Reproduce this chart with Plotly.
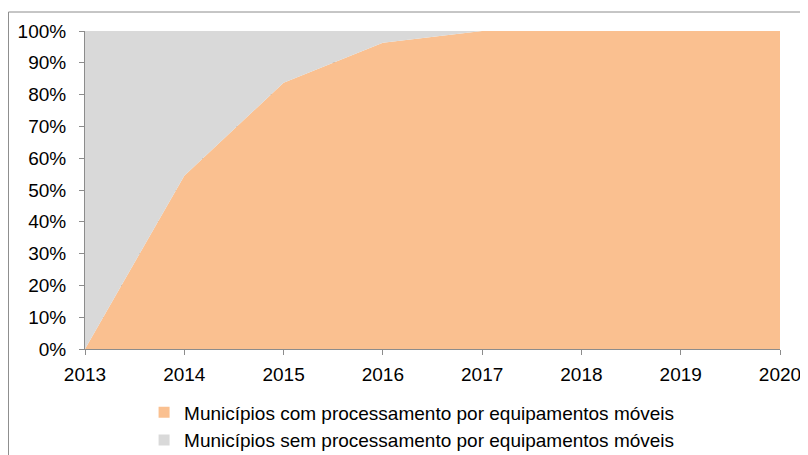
import plotly.graph_objects as go

years = [2013, 2014, 2015, 2016, 2017, 2018, 2019, 2020]
com_moveis = [0, 54.5, 83.7, 96.3, 100, 100, 100, 100]
sem_moveis = [100, 45.5, 16.3, 3.7, 0, 0, 0, 0]
y_ticks = [0, 10, 20, 30, 40, 50, 60, 70, 80, 90, 100]
y_labels = [f'{v}%' for v in y_ticks]
names = ['Municípios com processamento por equipamentos móveis',
         'Municípios sem processamento por equipamentos móveis']
colors = ['#FAC090', '#D9D9D9']

fig = go.Figure()
for serie, name, color in zip([com_moveis, sem_moveis], names, colors):
    fig.add_trace(go.Scatter(x=years, y=serie, name=name, stackgroup='one', mode='none',
                             fillcolor=color, showlegend=False, hoverinfo='x+y+name'))

# legend entries with square swatches like the original
for i, (name, color) in enumerate(zip(names, colors)):
    fig.add_trace(go.Scatter(x=[None], y=[None], name=name, mode='markers',
                             marker=dict(symbol='square', size=11, color=color),
                             legendgroup=str(i), legendrank=i + 1))

axis_style = dict(showline=True, linecolor='#8C8C8C', linewidth=1, ticks='outside',
                  ticklen=5, tickcolor='#8C8C8C', tickfont=dict(size=19, color='#000000'))
fig.update_xaxes(range=[2013, 2020], tickvals=years, showgrid=False, zeroline=False,
                 ticklabelstandoff=3, **axis_style)
fig.update_yaxes(range=[0, 100], tickvals=y_ticks, ticktext=y_labels, showgrid=True,
                 gridcolor='#8C8C8C', zeroline=False, ticklabelstandoff=9, **axis_style)

# page body has an 8px margin, so the margins are 8px smaller than the target positions
fig.update_layout(
    width=808, height=455, autosize=False,
    margin=dict(l=77, r=36, t=23, b=114, autoexpand=False),
    paper_bgcolor='white', plot_bgcolor='white',
    font=dict(family='Liberation Sans, Arial, sans-serif', color='#000000'),
    legend=dict(orientation='v', x=0.085, xanchor='left', y=-0.14, yanchor='top',
                font=dict(size=19), tracegroupgap=0, itemclick=False),
    shapes=[dict(type='rect', xref='paper', yref='paper', x0=-0.1101, x1=1.2, y0=-0.5, y1=1.0597,
                 line=dict(color='#8C8C8C', width=1), layer='below')],
)
fig.write_html("out.html")
